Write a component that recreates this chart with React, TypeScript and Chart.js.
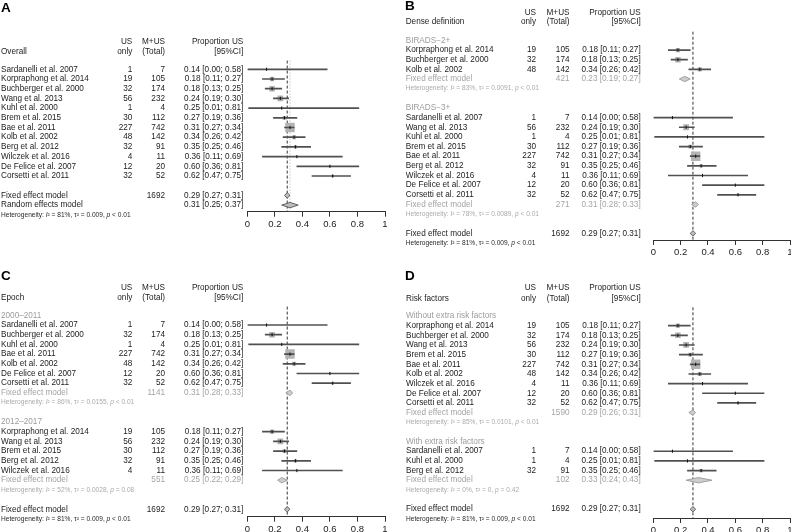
import React, { useEffect, useRef } from "react";
import { Chart, registerables } from "chart.js";
Chart.register(...registerables);

const FONT = '"Liberation Sans", Arial, Helvetica, sans-serif';

// ---------- data ----------
const studyNames = [
  "Sardanelli et al. 2007",
  "Korpraphong et al. 2014",
  "Buchberger et al. 2000",
  "Wang et al. 2013",
  "Kuhl et al. 2000",
  "Brem et al. 2015",
  "Bae et al. 2011",
  "Kolb et al. 2002",
  "Berg et al. 2012",
  "Wilczek et al. 2016",
  "De Felice et al. 2007",
  "Corsetti et al. 2011",
];
const usOnly = [1, 19, 32, 56, 1, 30, 227, 48, 32, 4, 12, 32];
const totalN = [7, 105, 174, 232, 4, 112, 742, 142, 91, 11, 20, 52];
const propEst = [0.14, 0.18, 0.18, 0.24, 0.25, 0.27, 0.31, 0.34, 0.35, 0.36, 0.6, 0.62];
const propLo = [0.0, 0.11, 0.13, 0.19, 0.01, 0.19, 0.27, 0.26, 0.25, 0.11, 0.36, 0.47];
const propHi = [0.58, 0.27, 0.25, 0.3, 0.81, 0.36, 0.34, 0.42, 0.46, 0.69, 0.81, 0.75];

const axisTicks = [0, 0.2, 0.4, 0.6, 0.8, 1];
const axisTickLabels = ["0", "0.2", "0.4", "0.6", "0.8", "1"];

const overallOrder = [0, 1, 2, 3, 4, 5, 6, 7, 8, 9, 10, 11];
const overallN = 1692;
const overallFixed = [0.29, 0.27, 0.31];
const overallRandom = [0.31, 0.25, 0.37];
const overallHet = ["81%", "0.009", "< 0.01"];

const birads2Order = [1, 2, 7];
const birads2N = 421;
const birads2Fixed = [0.23, 0.19, 0.27];
const birads2Het = ["83%", "0.0091", "< 0.01"];

const birads3Order = [0, 3, 4, 5, 6, 8, 9, 10, 11];
const birads3N = 271;
const birads3Fixed = [0.31, 0.28, 0.33];
const birads3Het = ["78%", "0.0089", "< 0.01"];

const epoch1Order = [0, 2, 4, 6, 7, 10, 11];
const epoch1N = 1141;
const epoch1Fixed = [0.31, 0.28, 0.33];
const epoch1Het = ["86%", "0.0155", "< 0.01"];

const epoch2Order = [1, 3, 5, 8, 9];
const epoch2N = 551;
const epoch2Fixed = [0.25, 0.22, 0.29];
const epoch2Het = ["52%", "0.0028", "= 0.08"];

const withoutOrder = [1, 2, 3, 5, 6, 7, 9, 10, 11];
const withoutN = 1590;
const withoutFixed = [0.29, 0.26, 0.31];
const withoutHet = ["85%", "0.0101", "< 0.01"];

const withOrder = [0, 4, 8];
const withN = 102;
const withFixed = [0.33, 0.24, 0.43];
const withHet = ["0%", "0", "= 0.42"];

// ---------- styles ----------
const DARK = "#1c1c1c";
const GROUP_GRAY = "#9c9c9c";
const SUB_GRAY = "#a4a4a4";
const HET_GRAY = "#ababab";
const TXT = 8.2;
const HET_TXT = 6.6;
const MAX_SIDE = 9.5;
const DIAMOND_H = 2.7;

type Row = {
  kind: string;
  row: number;
  idx?: number;
  label?: string;
  n?: number | null;
  ci?: number[];
  het?: string[];
};

function overallRows(): Row[] {
  const rows: Row[] = overallOrder.map((idx, i) => ({ kind: "study", row: i, idx }));
  let r = overallOrder.length + 1;
  rows.push({ kind: "fixed", row: r++, n: overallN, ci: overallFixed, label: "Fixed effect model" });
  rows.push({ kind: "random", row: r++, n: null, ci: overallRandom, label: "Random effects model" });
  rows.push({ kind: "het", row: r++, het: overallHet });
  return rows;
}

function subgroupRows(groups: { label: string; order: number[]; n: number; fixed: number[]; het: string[] }[]): Row[] {
  const rows: Row[] = [];
  let r = 0;
  for (const g of groups) {
    rows.push({ kind: "group", row: r++, label: g.label });
    for (const idx of g.order) rows.push({ kind: "study", row: r++, idx });
    rows.push({ kind: "subFixed", row: r++, n: g.n, ci: g.fixed, label: "Fixed effect model" });
    rows.push({ kind: "subHet", row: r++, het: g.het });
    r++;
  }
  rows.push({ kind: "fixed", row: r++, n: overallN, ci: overallFixed, label: "Fixed effect model" });
  rows.push({ kind: "het", row: r++, het: overallHet });
  return rows;
}

const panels = [
  {
    key: "A", title: "Overall", left: 0, top: 0, w: 395, h: 266,
    x0: 247.3, x1: 385, axisY: 211.7, row0: 69.3, rowH: 9.7,
    letterX: 1, letterY: 8, textX: 1, colUS: 132.3, colN: 165, colP: 243.3,
    headerRows: [-2.8, -1.8], random: true,
    rows: overallRows(),
  },
  {
    key: "B", title: "Dense definition", left: 395, top: 0, w: 410, h: 266,
    x0: 653.3, x1: 790, axisY: 240, row0: 40.4, rowH: 9.65,
    letterX: 405, letterY: 6.7, textX: 405.7, colUS: 536, colN: 569.5, colP: 640.7,
    headerRows: [-2.91, -1.9], random: false,
    rows: subgroupRows([
      { label: "BIRADS\u22122+", order: birads2Order, n: birads2N, fixed: birads2Fixed, het: birads2Het },
      { label: "BIRADS\u22123+", order: birads3Order, n: birads3N, fixed: birads3Fixed, het: birads3Het },
    ]),
  },
  {
    key: "C", title: "Epoch", left: 0, top: 266, w: 395, h: 266,
    x0: 247.3, x1: 385, axisY: 516.7, row0: 315.3, rowH: 9.7,
    letterX: 1, letterY: 276.7, textX: 1, colUS: 132.3, colN: 165, colP: 243.3,
    headerRows: [-2.89, -1.81], random: false,
    rows: subgroupRows([
      { label: "2000\u20132011", order: epoch1Order, n: epoch1N, fixed: epoch1Fixed, het: epoch1Het },
      { label: "2012\u20132017", order: epoch2Order, n: epoch2N, fixed: epoch2Fixed, het: epoch2Het },
    ]),
  },
  {
    key: "D", title: "Risk factors", left: 395, top: 266, w: 410, h: 266,
    x0: 653.3, x1: 790, axisY: 518, row0: 316, rowH: 9.66,
    letterX: 405, letterY: 276.7, textX: 406, colUS: 536, colN: 569.5, colP: 640.7,
    headerRows: [-2.95, -1.8], random: false,
    rows: subgroupRows([
      { label: "Without extra risk factors", order: withoutOrder, n: withoutN, fixed: withoutFixed, het: withoutHet },
      { label: "With extra risk factors", order: withOrder, n: withN, fixed: withFixed, het: withHet },
    ]),
  },
];

type PanelCfg = (typeof panels)[number];

function txt(ctx: CanvasRenderingContext2D, s: string, x: number, y: number, align: CanvasTextAlign, color = DARK, size = TXT, weight = "normal", style = "normal") {
  ctx.font = `${style} ${weight} ${size}px ${FONT}`;
  ctx.fillStyle = color;
  ctx.textAlign = align;
  ctx.textBaseline = "middle";
  ctx.fillText(s, x, y);
}

function hetText(ctx: CanvasRenderingContext2D, h: string[], x: number, y: number, color: string) {
  const pieces: [string, boolean][] = [
    ["Heterogeneity: ", false],
    ["I", true],
    ["\u00b2 = " + h[0] + ", \u03c4\u00b2 = " + h[1] + ", ", false],
    ["p", true],
    [" " + h[2], false],
  ];
  let cx = x;
  for (const [s, it] of pieces) {
    ctx.font = `${it ? "italic" : "normal"} normal ${HET_TXT}px ${FONT}`;
    ctx.fillStyle = color;
    ctx.textAlign = "left";
    ctx.textBaseline = "middle";
    ctx.fillText(s, cx, y);
    cx += ctx.measureText(s).width;
  }
}

const f2 = (v: number) => v.toFixed(2);
const ciText = (ci: number[]) => `${f2(ci[0])} [${f2(ci[1])}; ${f2(ci[2])}]`;

function buildConfig(p: PanelCfg): any {
  const rows = p.rows;
  const studies = rows.filter((r) => r.kind === "study");
  const row0Rel = p.row0 - p.top;
  const axisRel = p.axisY - p.top;
  const yMin = -row0Rel / p.rowH;
  const yMax = yMin + axisRel / p.rowH;

  const wts = totalN.map((n, i) => n / (propEst[i] * (1 - propEst[i])));
  const wMax = Math.max(...wts);

  const datasets: any[] = [];

  // reference lines
  datasets.push({
    type: "line",
    data: [{ x: overallFixed[0], y: -0.9 }, { x: overallFixed[0], y: yMax }],
    borderColor: "#333",
    borderWidth: 1,
    borderDash: [3, 2],
    pointRadius: 0,
    fill: false,
    order: 9,
  });
  if (p.random) {
    datasets.push({
      type: "line",
      data: [{ x: overallRandom[0], y: -0.9 }, { x: overallRandom[0], y: yMax }],
      borderColor: "#aaa",
      borderWidth: 1,
      borderDash: [1, 2],
      pointRadius: 0,
      fill: false,
      order: 8,
    });
  }

  // weight squares
  datasets.push({
    type: "scatter",
    data: studies.map((r) => ({ x: propEst[r.idx!], y: r.row })),
    pointStyle: "rect",
    pointRadius: studies.map((r) => (MAX_SIDE * Math.sqrt(wts[r.idx!] / wMax)) / Math.SQRT2),
    backgroundColor: "#b3b3b3",
    borderWidth: 0,
    order: 6,
  });

  // confidence intervals
  datasets.push({
    type: "bar",
    indexAxis: "y",
    data: studies.map((r) => ({ y: r.row, x: [propLo[r.idx!], propHi[r.idx!]] })),
    backgroundColor: "#505050",
    barThickness: 1,
    borderWidth: 0,
    order: 4,
  });

  // estimate ticks
  datasets.push({
    type: "scatter",
    data: studies.map((r) => ({ x: propEst[r.idx!], y: r.row })),
    pointStyle: "line",
    rotation: 90,
    pointRadius: 1.6,
    borderColor: "#111",
    borderWidth: 1,
    order: 3,
  });

  // diamonds
  const hh = DIAMOND_H / p.rowH;
  rows
    .filter((r) => r.kind === "fixed" || r.kind === "random" || r.kind === "subFixed")
    .forEach((r) => {
      const [e, lo, hi] = r.ci!;
      const sub = r.kind === "subFixed";
      datasets.push({
        type: "line",
        data: [
          { x: lo, y: r.row },
          { x: e, y: r.row - hh },
          { x: hi, y: r.row },
          { x: e, y: r.row + hh },
          { x: lo, y: r.row },
        ],
        fill: "shape",
        backgroundColor: sub ? "#cdcdcd" : "#bdbdbd",
        borderColor: sub ? "#9a9a9a" : "#555",
        borderWidth: 0.9,
        pointRadius: 0,
        tension: 0,
        order: 1,
      });
    });

  const L = p.left;
  const T = p.top;
  const textPlugin = {
    id: "forestText" + p.key,
    afterDraw(chart: any) {
      const ctx: CanvasRenderingContext2D = chart.ctx;
      const ys = chart.scales.y;
      const Y = (r: number) => ys.getPixelForValue(r);
      const tx = p.textX - L, cu = p.colUS - L, cn = p.colN - L, cp = p.colP - L;
      ctx.save();
      txt(ctx, p.key, p.letterX - L, p.letterY - T, "left", "#000", 13.5, "bold");
      const h0 = Y(p.headerRows[0]);
      const h1 = Y(p.headerRows[1]);
      txt(ctx, "US", cu, h0, "right");
      txt(ctx, "only", cu, h1, "right");
      txt(ctx, "M+US", cn, h0, "right");
      txt(ctx, "(Total)", cn, h1, "right");
      txt(ctx, "Proportion US", cp, h0, "right");
      txt(ctx, "[95%CI]", cp, h1, "right");
      txt(ctx, p.title, tx, h1, "left");
      for (const r of rows) {
        const y = Y(r.row);
        if (r.kind === "group") {
          txt(ctx, r.label!, tx, y, "left", GROUP_GRAY);
        } else if (r.kind === "study") {
          const i = r.idx!;
          txt(ctx, studyNames[i], tx, y, "left");
          txt(ctx, String(usOnly[i]), cu, y, "right");
          txt(ctx, String(totalN[i]), cn, y, "right");
          txt(ctx, ciText([propEst[i], propLo[i], propHi[i]]), cp, y, "right");
        } else if (r.kind === "subFixed" || r.kind === "fixed" || r.kind === "random") {
          const c = r.kind === "subFixed" ? SUB_GRAY : DARK;
          txt(ctx, r.label!, tx, y, "left", c);
          if (r.n != null) txt(ctx, String(r.n), cn, y, "right", c);
          txt(ctx, ciText(r.ci!), cp, y, "right", c);
        } else if (r.kind === "het" || r.kind === "subHet") {
          hetText(ctx, r.het!, tx, y, r.kind === "het" ? "#2a2a2a" : HET_GRAY);
        }
      }
      ctx.restore();
    },
  };

  const belowAxis = p.h - axisRel;

  return {
    type: "scatter",
    data: { datasets },
    options: {
      animation: false,
      responsive: false,
      events: [],
      layout: { autoPadding: false, padding: { left: p.x0 - L, right: L + p.w - p.x1, top: 0, bottom: 0 } },
      plugins: { legend: { display: false }, tooltip: { enabled: false }, title: { display: false } },
      scales: {
        x: {
          type: "linear",
          position: "bottom",
          min: 0,
          max: 1,
          offset: false,
          afterBuildTicks: (s: any) => {
            s.ticks = axisTicks.map((v) => ({ value: v }));
          },
          afterFit: (s: any) => {
            s.height = belowAxis;
          },
          ticks: {
            callback: (_v: any, i: number) => axisTickLabels[i],
            font: { family: FONT, size: 9.5 },
            color: "#222",
            padding: 2,
            maxRotation: 0,
            autoSkip: false,
          },
          grid: { display: true, drawOnChartArea: false, drawTicks: true, tickLength: 5, color: "#333", lineWidth: 1 },
          border: { display: true, color: "#333", width: 1 },
        },
        y: {
          type: "linear",
          display: false,
          reverse: true,
          min: yMin,
          max: yMax,
          offset: false,
        },
      },
    },
    plugins: [textPlugin],
  };
}

function Panel({ cfg }: { cfg: PanelCfg }) {
  const ref = useRef<HTMLCanvasElement>(null);
  useEffect(() => {
    const chart = new Chart(ref.current!, buildConfig(cfg));
    return () => chart.destroy();
  }, [cfg]);
  return (
    <canvas
      ref={ref}
      width={cfg.w}
      height={cfg.h}
      style={{ position: "absolute", left: cfg.left, top: cfg.top, width: cfg.w, height: cfg.h, display: "block" }}
    />
  );
}

export default function App() {
  return (
    <div style={{ position: "absolute", left: 0, top: 0, width: 791, height: 532, overflow: "hidden", background: "#fff" }}>
      {panels.map((p) => (
        <Panel key={p.key} cfg={p} />
      ))}
    </div>
  );
}
